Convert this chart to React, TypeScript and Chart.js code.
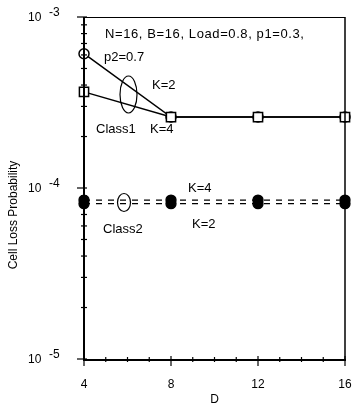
import React, { useEffect, useRef } from "react";
import { Chart, registerables } from "chart.js";

Chart.register(...registerables);

const dValues = [4, 8, 12, 16];
const class1K2 = [6.1e-4, 2.6e-4, 2.6e-4, 2.6e-4];
const class1K4 = [3.65e-4, 2.6e-4, 2.6e-4, 2.6e-4];
const class2K4 = [8.5e-5, 8.5e-5, 8.5e-5, 8.5e-5];
const class2K2 = [8.1e-5, 8.1e-5, 8.1e-5, 8.1e-5];
const xTicks = [4, 8, 12, 16];
const yMajorExp = [-3, -4, -5];

const FONT = "Liberation Sans, Arial, sans-serif";

const toPts = (ys: number[]) => dValues.map((x, i) => ({ x, y: ys[i] }));

const decorPlugin = {
  id: "decor",
  afterDraw(chart: any) {
    const ctx = chart.ctx as CanvasRenderingContext2D;
    const xs = chart.scales.x;
    const ys = chart.scales.y;
    const { left, right, top, bottom } = chart.chartArea;
    ctx.save();
    ctx.strokeStyle = "#000";
    ctx.fillStyle = "#000";
    // frame
    ctx.lineWidth = 1;
    ctx.beginPath();
    ctx.moveTo(left, top + 0.5);
    ctx.lineTo(right, top + 0.5);
    ctx.stroke();
    ctx.lineWidth = 1.5;
    ctx.beginPath();
    ctx.moveTo(right, top);
    ctx.lineTo(right, bottom);
    ctx.stroke();
    ctx.lineWidth = 2;
    ctx.beginPath();
    ctx.moveTo(left, top);
    ctx.lineTo(left, bottom + 1);
    ctx.lineTo(right + 1, bottom + 1);
    ctx.stroke();

    // y ticks
    ctx.lineWidth = 1.2;
    for (const e of yMajorExp) {
      const y = ys.getPixelForValue(Math.pow(10, e));
      ctx.beginPath();
      ctx.moveTo(left - 7, y);
      ctx.lineTo(left + 3, y);
      ctx.stroke();
      ctx.font = `12px ${FONT}`;
      ctx.textAlign = "left";
      ctx.textBaseline = "middle";
      ctx.fillText("10", 28, y + 1);
      ctx.fillText(String(e), 49, y - 4);
      if (e > -5) {
        for (let m = 2; m <= 9; m++) {
          const yy = ys.getPixelForValue(m * Math.pow(10, e - 1));
          ctx.beginPath();
          ctx.moveTo(left - 3, yy);
          ctx.lineTo(left + 3, yy);
          ctx.stroke();
        }
      }
    }
    // x ticks
    for (let v = 4; v <= 16; v++) {
      const x = xs.getPixelForValue(v);
      ctx.beginPath();
      if (xTicks.includes(v)) {
        ctx.moveTo(x, bottom - 3);
        ctx.lineTo(x, bottom + 7);
      } else {
        ctx.moveTo(x, bottom - 2);
        ctx.lineTo(x, bottom + 3);
      }
      ctx.stroke();
    }
    ctx.font = `12px ${FONT}`;
    ctx.textAlign = "center";
    ctx.textBaseline = "middle";
    for (const v of xTicks) {
      ctx.fillText(String(v), xs.getPixelForValue(v), 385);
    }
    ctx.fillText("D", (left + right) / 2, 400);

    // y title
    ctx.save();
    ctx.translate(14, 215);
    ctx.rotate(-Math.PI / 2);
    ctx.font = `12px ${FONT}`;
    ctx.textAlign = "center";
    ctx.textBaseline = "middle";
    ctx.fillText("Cell Loss Probability", 0, 0);
    ctx.restore();

    // annotations
    ctx.textAlign = "left";
    ctx.textBaseline = "middle";
    ctx.font = `13px ${FONT}`;
    (ctx as any).letterSpacing = "0.6px";
    ctx.fillText("N=16, B=16, Load=0.8, p1=0.3,", 105, 34);
    (ctx as any).letterSpacing = "0px";
    ctx.fillText("p2=0.7", 104, 57);
    ctx.fillText("K=2", 152, 85);
    ctx.fillText("Class1", 96, 129);
    ctx.fillText("K=4", 150, 129);
    ctx.fillText("Class2", 103, 229);
    ctx.fillText("K=4", 188, 188);
    ctx.fillText("K=2", 192, 224);

    ctx.lineWidth = 1.2;
    ctx.beginPath();
    ctx.ellipse(128.5, 94.5, 8.5, 18.5, 0, 0, Math.PI * 2);
    ctx.stroke();
    ctx.beginPath();
    ctx.ellipse(124, 202.5, 6.5, 9, 0, 0, Math.PI * 2);
    ctx.stroke();
    ctx.restore();
  },
};

export default function App() {
  const ref = useRef<HTMLCanvasElement>(null);
  useEffect(() => {
    document.body.style.margin = "0";
    const canvas = ref.current!;
    const chart = new Chart(canvas, {
      type: "line",
      data: {
        datasets: [
          {
            label: "Class1 K=2",
            data: toPts(class1K2),
            order: 2,
            borderColor: "#000",
            borderWidth: 1.5,
            pointStyle: "circle",
            pointRadius: 5,
            pointBackgroundColor: "#fff",
            pointBorderColor: "#000",
            pointBorderWidth: 1.5,
            clip: false,
          },
          {
            label: "Class1 K=4",
            data: toPts(class1K4),
            order: 1,
            borderColor: "#000",
            borderWidth: 1.5,
            pointStyle: "rect",
            pointRadius: 6.5,
            pointBackgroundColor: "#fff",
            pointBorderColor: "#000",
            pointBorderWidth: 1.5,
            clip: false,
          },
          {
            label: "Class2 K=4",
            data: toPts(class2K4),
            order: 3,
            borderColor: "#000",
            borderWidth: 1.3,
            borderDash: [6, 6],
            pointStyle: "circle",
            pointRadius: 5,
            pointBackgroundColor: "#000",
            pointBorderColor: "#000",
            clip: false,
          },
          {
            label: "Class2 K=2",
            data: toPts(class2K2),
            order: 4,
            borderColor: "#000",
            borderWidth: 1.3,
            borderDash: [6, 6],
            pointStyle: "circle",
            pointRadius: 5,
            pointBackgroundColor: "#000",
            pointBorderColor: "#000",
            clip: false,
          },
        ],
      },
      options: {
        animation: false,
        responsive: false,
        maintainAspectRatio: false,
        layout: { padding: { left: 84, top: 17, right: 11, bottom: 52 } },
        plugins: { legend: { display: false }, tooltip: { enabled: false } },
        elements: { line: { tension: 0 } },
        scales: {
          x: {
            type: "linear",
            min: 4,
            max: 16,
            ticks: { display: false },
            grid: { display: false },
            border: { display: false },
            afterFit: (s: any) => {
              s.height = 0;
            },
          },
          y: {
            type: "logarithmic",
            min: 1e-5,
            max: 1e-3,
            ticks: { display: false },
            grid: { display: false },
            border: { display: false },
            afterFit: (s: any) => {
              s.width = 0;
            },
          },
        },
      },
      plugins: [decorPlugin],
    } as any);
    return () => chart.destroy();
  }, []);
  return (
    <div style={{ width: 356, height: 411, background: "#fff" }}>
      <canvas ref={ref} width={356} height={411} style={{ display: "block" }} />
    </div>
  );
}
